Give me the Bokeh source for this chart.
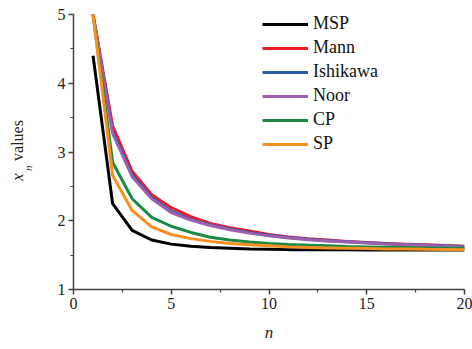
import math
from bokeh.plotting import figure
from bokeh.models import Range1d, FixedTicker, Label, Legend, LegendItem
from bokeh.embed import file_html
from bokeh.resources import INLINE

n_vals = list(range(1, 21))
series_names = ["MSP", "Mann", "Ishikawa", "Noor", "CP", "SP"]
msp = [4.40, 2.25, 1.86, 1.72, 1.66, 1.63, 1.61, 1.60, 1.59, 1.585, 1.58, 1.58, 1.578, 1.577, 1.576, 1.575, 1.575, 1.575, 1.575, 1.575]
mann = [5.0, 3.38, 2.72, 2.38, 2.19, 2.06, 1.96, 1.90, 1.85, 1.80, 1.765, 1.74, 1.72, 1.70, 1.685, 1.67, 1.66, 1.65, 1.64, 1.63]
ishikawa = [5.0, 3.30, 2.67, 2.34, 2.14, 2.02, 1.94, 1.88, 1.83, 1.79, 1.755, 1.73, 1.71, 1.695, 1.68, 1.665, 1.655, 1.645, 1.635, 1.625]
noor = [5.0, 3.27, 2.64, 2.32, 2.12, 2.01, 1.93, 1.87, 1.82, 1.78, 1.75, 1.725, 1.705, 1.69, 1.675, 1.66, 1.65, 1.64, 1.63, 1.62]
cp = [5.0, 2.85, 2.32, 2.05, 1.92, 1.83, 1.76, 1.72, 1.69, 1.67, 1.655, 1.645, 1.635, 1.625, 1.62, 1.615, 1.61, 1.605, 1.60, 1.60]
sp = [5.0, 2.66, 2.15, 1.91, 1.80, 1.74, 1.70, 1.67, 1.65, 1.635, 1.62, 1.61, 1.605, 1.60, 1.595, 1.59, 1.588, 1.585, 1.583, 1.58]
series_values = [msp, mann, ishikawa, noor, cp, sp]
colors = ["#000000", "#ed1c24", "#2a5caa", "#a05fae", "#1b8a45", "#f7901e"]

x_ticks = [0, 5, 10, 15, 20]
y_ticks = [1, 2, 3, 4, 5]

FONT = "'Liberation Serif'"

p = figure(width=472, height=349, output_backend="svg", toolbar_location=None,
           x_range=Range1d(0, 20), y_range=Range1d(1, 5),
           min_border_left=73, min_border_right=8, min_border_top=14, min_border_bottom=60)
p.outline_line_color = None
p.grid.visible = False
p.background_fill_color = "white"
p.border_fill_color = "white"

p.xaxis.ticker = FixedTicker(ticks=x_ticks, minor_ticks=[2.5, 7.5, 12.5, 17.5])
p.yaxis.ticker = FixedTicker(ticks=y_ticks, minor_ticks=[1.5, 2.5, 3.5, 4.5])
for ax in (p.xaxis, p.yaxis):
    ax.axis_line_color = "#404040"
    ax.axis_line_width = 1.5
    ax.major_tick_line_color = "#404040"
    ax.major_tick_line_width = 1.5
    ax.minor_tick_line_color = "#404040"
    ax.minor_tick_line_width = 1.2
    ax.major_tick_out = 5
    ax.major_tick_in = 0
    ax.minor_tick_out = 3
    ax.minor_tick_in = 0
    ax.major_label_text_font = FONT
    ax.major_label_text_font_size = "16px"
    ax.major_label_text_color = "#222222"
    ax.major_label_standoff = 3

items = []
for name, vals, col in zip(series_names, series_values, colors):
    r = p.line(n_vals, vals, line_color=col, line_width=3)
    items.append(LegendItem(label=name, renderers=[r]))

legend = Legend(items=items, location=(189, 135), border_line_color=None,
                background_fill_alpha=0, padding=0, margin=0, spacing=3,
                glyph_width=46, glyph_height=14, label_height=14, label_standoff=5,
                label_text_font=FONT, label_text_font_size="18px", label_text_color="#111111")
p.add_layout(legend, "center")

# axis titles (placed in side panels so they are not clipped to the frame)
p.add_layout(Label(x=-2.864, y=2.58, text="x", angle=math.pi / 2, text_font=FONT,
                   text_font_style="italic", text_font_size="17px", text_color="#222222",
                   text_align="left", text_baseline="middle"), "left")
p.add_layout(Label(x=-2.864, y=2.87, text="values", angle=math.pi / 2, text_font=FONT,
                   text_font_size="16px", text_color="#222222",
                   text_align="left", text_baseline="middle"), "left")
p.add_layout(Label(x=-2.33, y=2.725, text="n", angle=math.pi / 2, text_font=FONT,
                   text_font_style="italic", text_font_size="11px", text_color="#222222",
                   text_align="left", text_baseline="middle"), "left")
p.add_layout(Label(x=10.0, y=0.375, text="n", text_font=FONT, text_font_style="italic",
                   text_font_size="17px", text_color="#222222",
                   text_align="center", text_baseline="middle"), "below")

open("out.html", "w").write(file_html(p, INLINE))
